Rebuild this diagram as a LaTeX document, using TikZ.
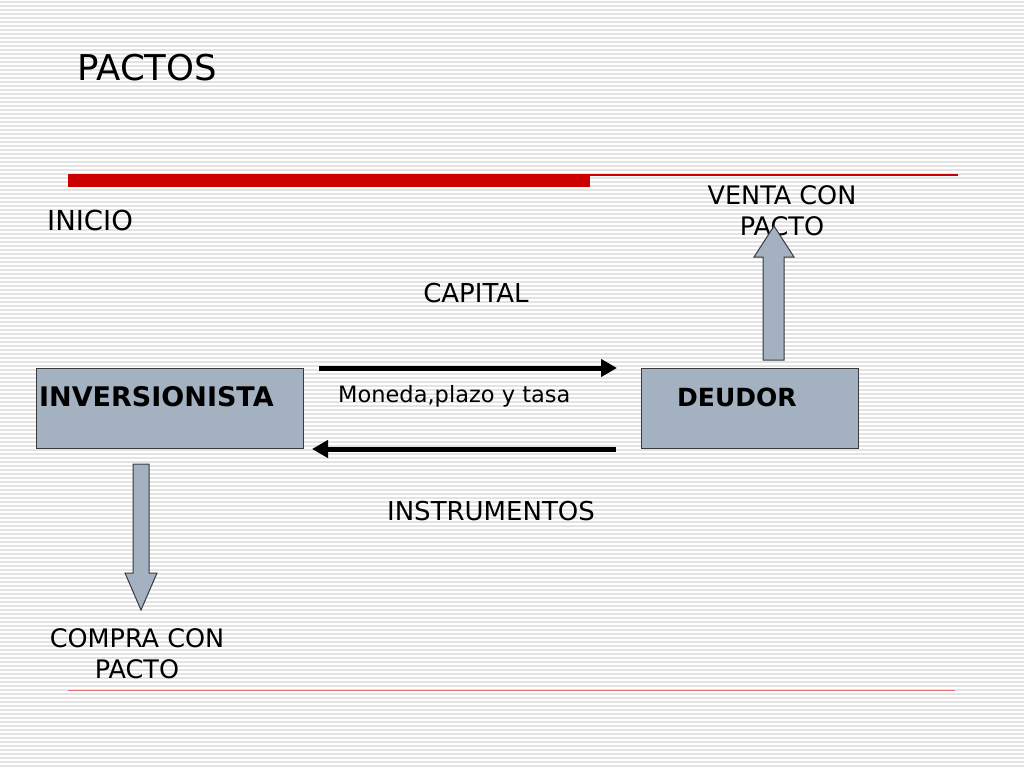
\documentclass[tikz,border=0pt]{standalone}
\usepackage{fontspec}
\setmainfont{DejaVu Sans}
\usetikzlibrary{arrows.meta}
\definecolor{boxgray}{HTML}{A3B1C1}
\definecolor{edgegray}{HTML}{3A3A3A}
\definecolor{barred}{HTML}{CC0000}
\tikzset{
  stripe/.style={draw=black!11,line width=1.6pt},
  box/.style={draw=edgegray,fill=boxgray,line width=1pt,rectangle,inner sep=0pt},
  txt/.style={inner sep=0pt,font=\fontsize{26}{31}\selectfont},
  boxtxt/.style={inner sep=0pt,anchor=west,font=\fontsize{25}{30}\selectfont\bfseries},
  flow/.style={line width=5pt,-{Triangle[length=16pt,width=17pt]}},
  block/.style={draw=edgegray,fill=boxgray,line width=1pt,line join=miter}
}
\begin{document}
\begin{tikzpicture}[x=1pt,y=-1pt]
  \useasboundingbox (0,0) rectangle (1024,768);
  \fill[white] (0,0) rectangle (1024,768);
  \foreach \y in {2,6,...,766}
    \draw[stripe] (0,\y) -- (1024,\y);
  \fill[barred] (68,174) rectangle (590,187);
  \draw[barred,line width=1.2pt] (590,175) -- (958,175);
  \draw[barred!55,line width=0.9pt] (68,690) -- (955,690);
  \draw
    (77,68) node[txt,anchor=west,font=\fontsize{35.5}{40}\selectfont] (title){PACTOS}
    (47,220) node[txt,anchor=west,font=\fontsize{27.5}{31}\selectfont] (inicio){INICIO}
    (782,211) node[txt,align=center,font=\fontsize{25.5}{31}\selectfont] (venta){VENTA CON\\PACTO}
    (476,293) node[txt] (capital){CAPITAL}
    (338,396) node[txt,anchor=west,font=\fontsize{22.5}{24}\selectfont] (moneda){Moneda,plazo y tasa}
    (491,511) node[txt] (instr){INSTRUMENTOS}
    (137,654) node[txt,align=center,font=\fontsize{25.5}{31}\selectfont] (compra){COMPRA CON\\PACTO};
  \node[box,anchor=north west,minimum width=267pt,minimum height=80pt] (inv) at (36,368) {};
  \node[box,anchor=north west,minimum width=217pt,minimum height=80pt] (deu) at (641,368) {};
  \node[boxtxt,font=\fontsize{27}{30}\selectfont\bfseries] (invtxt) at ([xshift=3pt,yshift=-29pt]inv.north west) {INVERSIONISTA};
  \node[boxtxt] (deutxt) at ([xshift=36pt,yshift=-29pt]deu.north west) {DEUDOR};
  \begin{scope}[-]
    \draw[flow] ([xshift=15pt]inv.north east) -- ([xshift=-24pt]deu.north west);
    \draw[flow] ([xshift=-25pt]deu.south west) -- ([xshift=8pt]inv.south east);
  \end{scope}
  \draw[block] (763,360) -- (763,257) -- (754,257) -- (774,226)
    -- (794,257) -- (784,257) -- (784,360) -- cycle;
  \draw[block] (133,464) -- (149,464) -- (149,573) -- (157,573)
    -- (141,610) -- (125,573) -- (133,573) -- cycle;
\end{tikzpicture}
\end{document}
